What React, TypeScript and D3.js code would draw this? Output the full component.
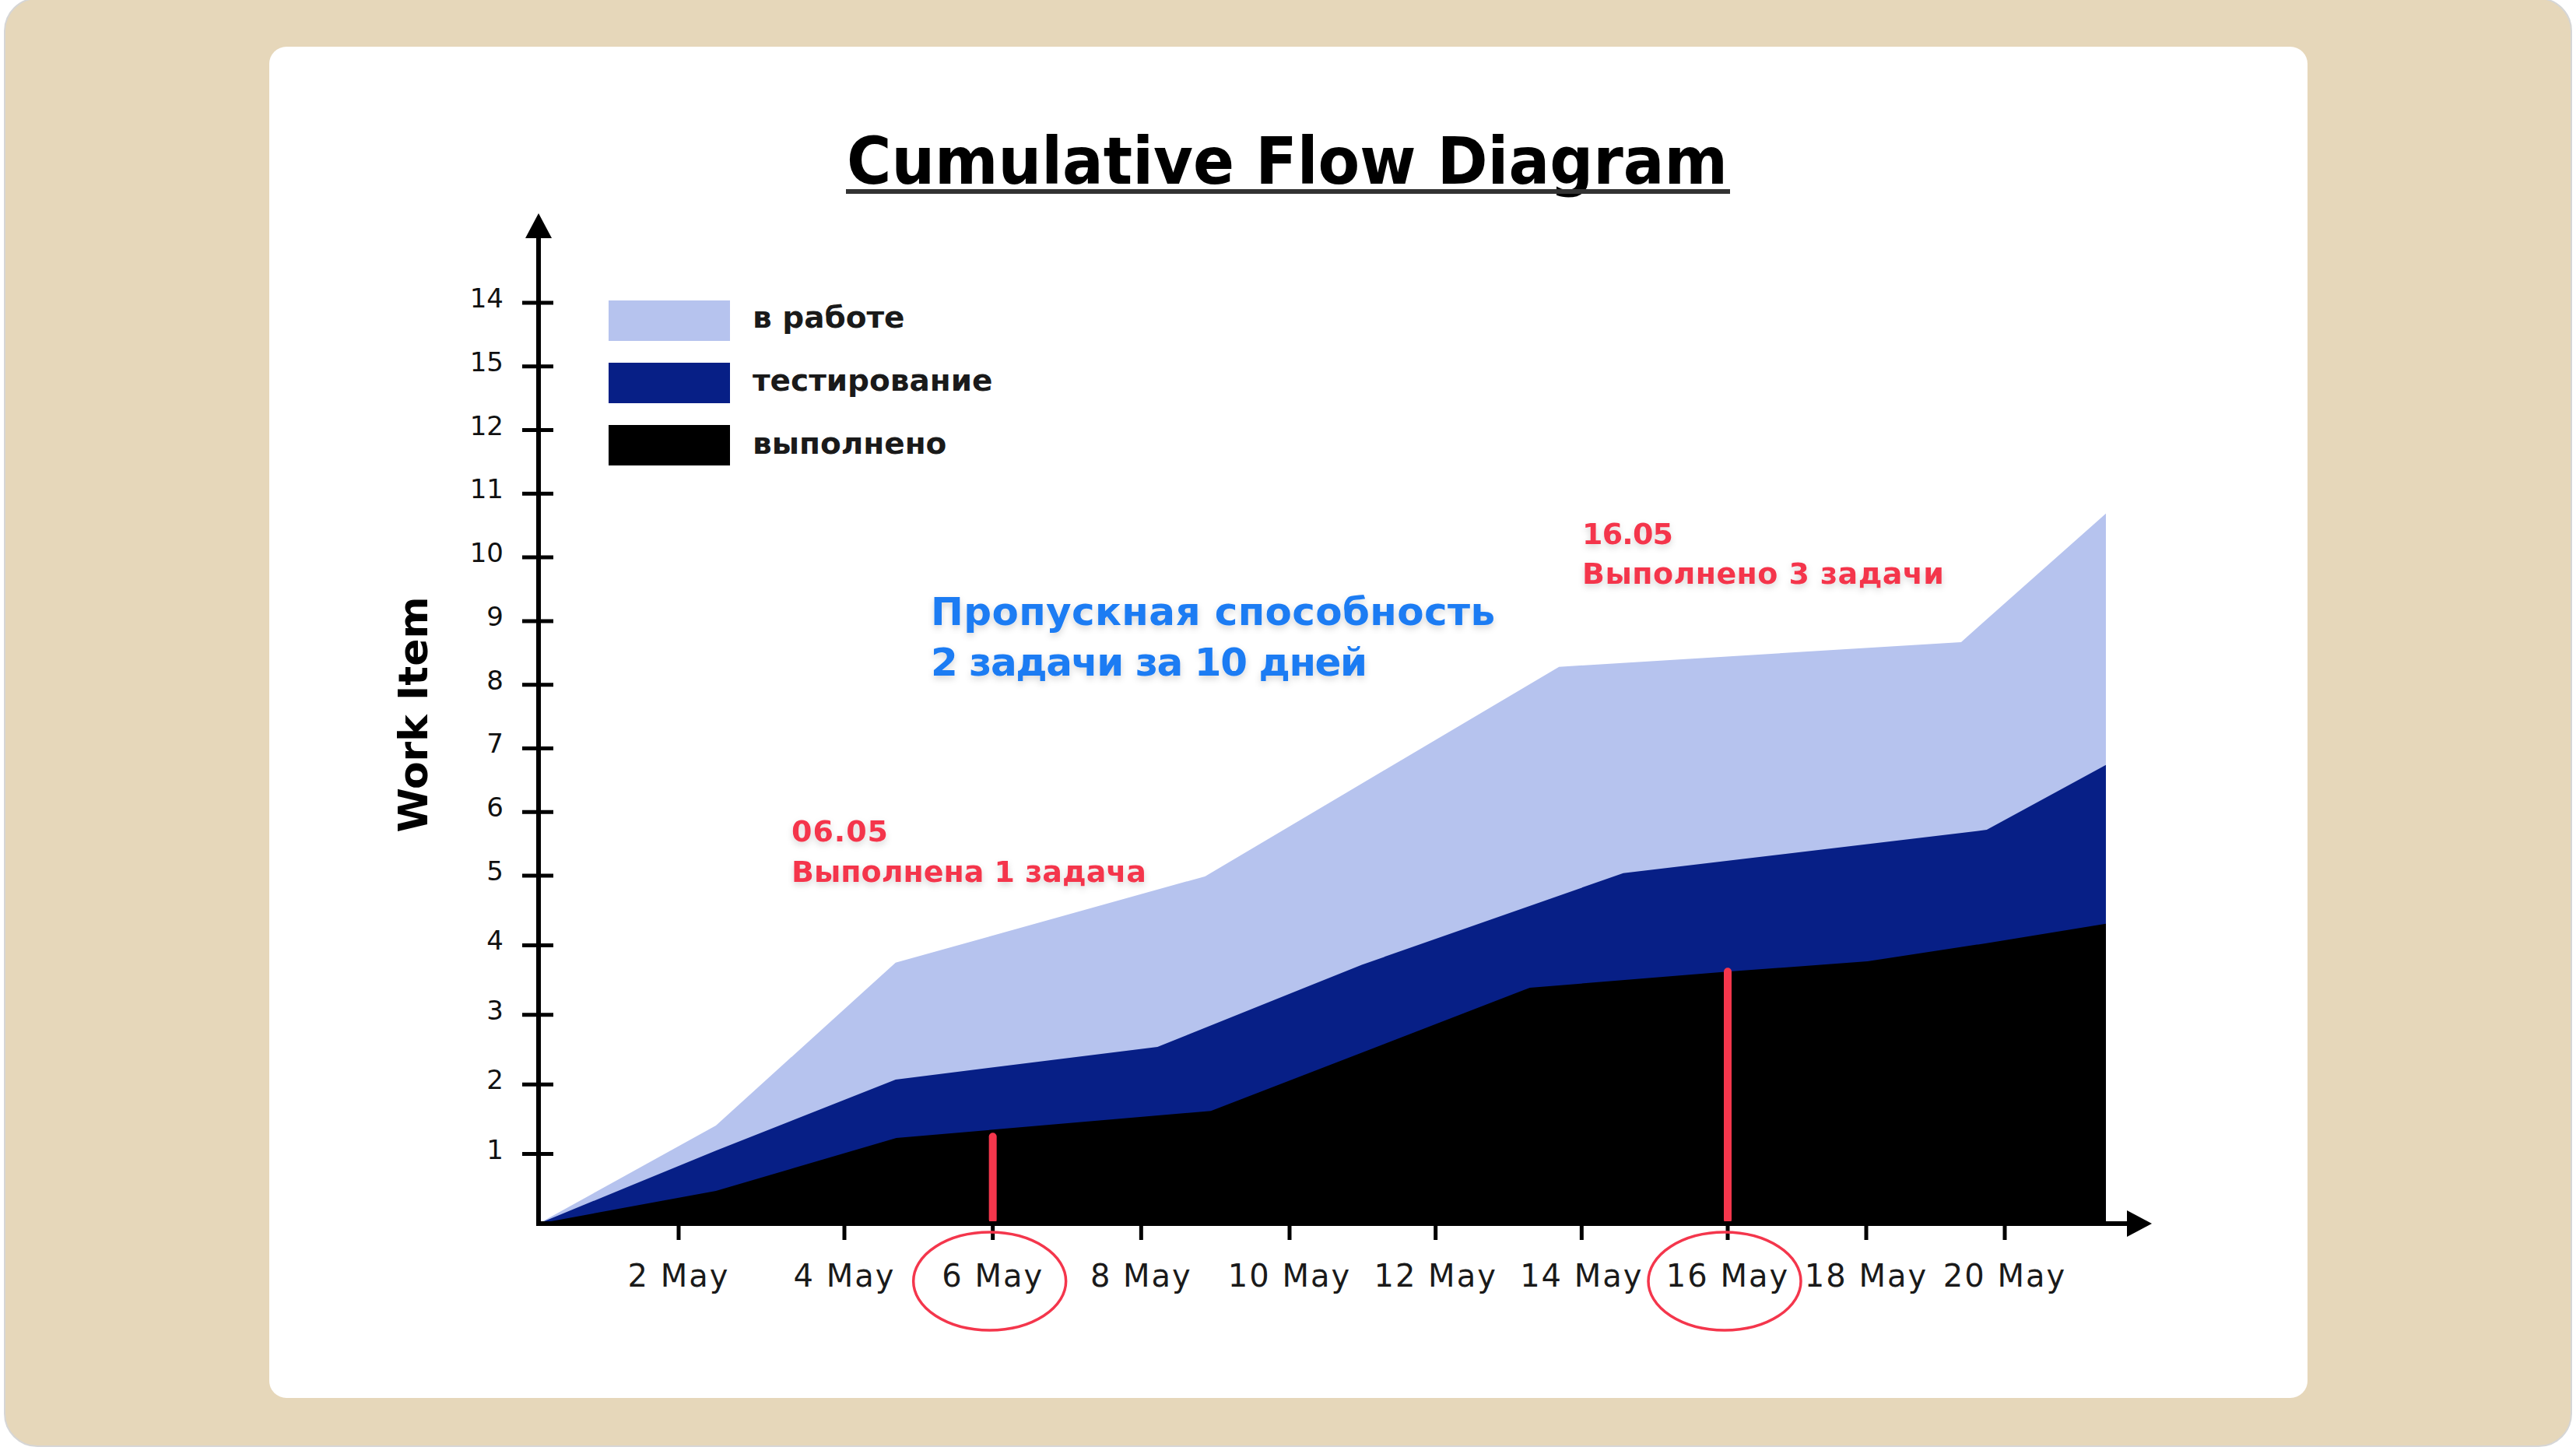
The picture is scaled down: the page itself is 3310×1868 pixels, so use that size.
import React from "react";
import * as d3 from "d3";

// ---- data ----
const xTickDays = [2, 4, 6, 8, 10, 12, 14, 16, 18, 20];
const xTickLabels = ["2 May", "4 May", "6 May", "8 May", "10 May", "12 May", "14 May", "16 May", "18 May", "20 May"];
const yTickValues = [1, 2, 3, 4, 5, 6, 7, 8, 9, 10, 11, 12, 13, 14];
const yTickLabels = ["1", "2", "3", "4", "5", "6", "7", "8", "9", "10", "11", "12", "15", "14"];

const inProgressDays = [0, 2.45, 4.69, 8.86, 13.69, 19.37, 21.46];
const inProgressTotals = [0, 1.41, 3.75, 4.99, 8.28, 8.67, 10.69];
const testingDays = [0, 2.45, 4.69, 8.22, 10.99, 14.57, 19.74, 21.46];
const testingTotals = [0, 1.05, 2.07, 2.54, 3.72, 5.04, 5.72, 6.74];
const doneDays = [0, 2.45, 4.7, 8.94, 13.29, 16.0, 18.02, 19.74, 21.46];
const doneTotals = [0, 0.47, 1.23, 1.62, 3.39, 3.62, 3.77, 4.03, 4.31];

const seriesNames = ["в работе", "тестирование", "выполнено"];
const seriesColors = ["#B6C3EE", "#071F86", "#000000"];

const markerDays = [6, 16];
const markerValues = [1.25, 3.62];

const title = "Cumulative Flow Diagram";
const yTitle = "Work Item";
const throughputLines = ["Пропускная способность", "2 задачи за 10 дней"];
const note1 = ["06.05", "Выполнена 1 задача"];
const note2 = ["16.05", "Выполнено 3 задачи"];

const W = 3310;
const H = 1868;

export default function App() {
  // the hand-drawn axis has slightly uneven tick spacing; a piecewise scale follows it
  const x = d3.scaleLinear().domain([0, 2, 4, 10, 16, 20]).range([692, 872, 1085, 1657, 2220, 2576]);
  const y = d3.scaleLinear().domain([0, 5, 14]).range([1572, 1125, 389]);
  const area = d3
    .area<[number, number]>()
    .x((d) => x(d[0]))
    .y0(y(0))
    .y1((d) => y(d[1]));

  const series: [number, number][][] = [
    inProgressDays.map((d, i) => [d, inProgressTotals[i]] as [number, number]),
    testingDays.map((d, i) => [d, testingTotals[i]] as [number, number]),
    doneDays.map((d, i) => [d, doneTotals[i]] as [number, number]),
  ];

  const x0 = x(0);
  const y0 = y(0);
  const axisEnd = 2765;
  const yTop = 274;
  const red = "#F4364C";
  const blue = "#1B7BF3";
  const font = "'DejaVu Sans', Verdana, sans-serif";

  return (
    <svg
      width={W}
      height={H}
      viewBox={`0 0 ${W} ${H}`}
      style={{ position: "absolute", left: 0, top: 0, display: "block" }}
    >
      <defs>
        <filter id="ts" x="-10%" y="-40%" width="120%" height="180%">
          <feDropShadow dx="0" dy="4" stdDeviation="4" floodColor="#000" floodOpacity="0.16" />
        </filter>
      </defs>
      <rect x={0} y={0} width={W} height={H} fill="#ffffff" />
      <rect x={6} y={-2} width={3298} height={1860} rx={42} fill="#E6D7BA" stroke="#d6d6d6" strokeWidth={2} />
      <rect x={346} y={60} width={2619} height={1736} rx={22} fill="#ffffff" />

      {/* title */}
      <text
        x={1654}
        y={236}
        textAnchor="middle"
        fontFamily={font}
        fontWeight="bold"
        fontSize={84}
        fill="#000"
        textLength={1132}
        lengthAdjust="spacingAndGlyphs"
      >
        {title}
      </text>
      <line x1={1087} x2={2223} y1={246} y2={246} stroke="#333" strokeWidth={6} />

      {/* areas */}
      {series.map((s, i) => (
        <path key={i} d={area(s) || ""} fill={seriesColors[i]} />
      ))}

      {/* red markers */}
      {markerDays.map((d, i) => (
        <line
          key={i}
          x1={x(d)}
          x2={x(d)}
          y1={y0 - 5}
          y2={y(markerValues[i])}
          stroke={red}
          strokeWidth={10}
          strokeLinecap="round"
        />
      ))}

      {/* y axis */}
      <line x1={x0} x2={x0} y1={y0 + 3} y2={yTop + 25} stroke="#000" strokeWidth={6} />
      <path d={`M${x0},${yTop} L${x0 - 17},${yTop + 32} L${x0 + 17},${yTop + 32} Z`} fill="#000" />
      {yTickValues.map((v, i) => (
        <g key={v}>
          <line x1={x0 - 21} x2={x0 + 19} y1={y(v)} y2={y(v)} stroke="#000" strokeWidth={5} />
          <text x={647} y={y(v) + 6} textAnchor="end" fontFamily={font} fontSize={34} fill="#111">
            {yTickLabels[i]}
          </text>
        </g>
      ))}

      {/* x axis */}
      <line x1={x0 - 3} x2={axisEnd - 25} y1={y0} y2={y0} stroke="#000" strokeWidth={6} />
      <path d={`M${axisEnd},${y0} L${axisEnd - 32},${y0 - 17} L${axisEnd - 32},${y0 + 17} Z`} fill="#000" />
      {xTickDays.map((d, i) => (
        <g key={d}>
          <line x1={x(d)} x2={x(d)} y1={y0} y2={y0 + 21} stroke="#000" strokeWidth={5} />
          <text
            x={x(d)}
            y={1653}
            textAnchor="middle"
            fontFamily={font}
            fontSize={40}
            letterSpacing={2}
            fill="#1a1a1a"
          >
            {xTickLabels[i]}
          </text>
        </g>
      ))}

      {/* circled dates */}
      {markerDays.map((d, i) => (
        <ellipse key={i} cx={x(d) - 4} cy={1646} rx={98} ry={63} fill="none" stroke={red} strokeWidth={3.5} />
      ))}

      {/* y title */}
      <text
        transform={`translate(549,918) rotate(-90)`}
        textAnchor="middle"
        fontFamily={font}
        fontWeight="bold"
        fontSize={52}
        fill="#000"
      >
        {yTitle}
      </text>

      {/* legend */}
      {seriesNames.map((n, i) => (
        <g key={n}>
          <rect x={782} y={386 + i * 80} width={156} height={52} fill={seriesColors[i]} />
          <text x={967} y={421 + i * 81} fontFamily={font} fontWeight="bold" fontSize={39} fill="#1a1a1a">
            {n}
          </text>
        </g>
      ))}

      {/* annotations */}
      <g filter="url(#ts)" fontFamily={font} fontWeight="bold">
        <text x={1196} y={803} fontSize={50} fill={blue} textLength={725}>
          {throughputLines[0]}
        </text>
        <text x={1196} y={868} fontSize={50} fill={blue} textLength={561}>
          {throughputLines[1]}
        </text>
        <text x={1017} y={1081} fontSize={38} fill={red} textLength={124}>
          {note1[0]}
        </text>
        <text x={1017} y={1133} fontSize={38} fill={red} textLength={456}>
          {note1[1]}
        </text>
        <text x={2033} y={699} fontSize={38} fill={red} textLength={117}>
          {note2[0]}
        </text>
        <text x={2033} y={750} fontSize={38} fill={red} textLength={465}>
          {note2[1]}
        </text>
      </g>
    </svg>
  );
}
